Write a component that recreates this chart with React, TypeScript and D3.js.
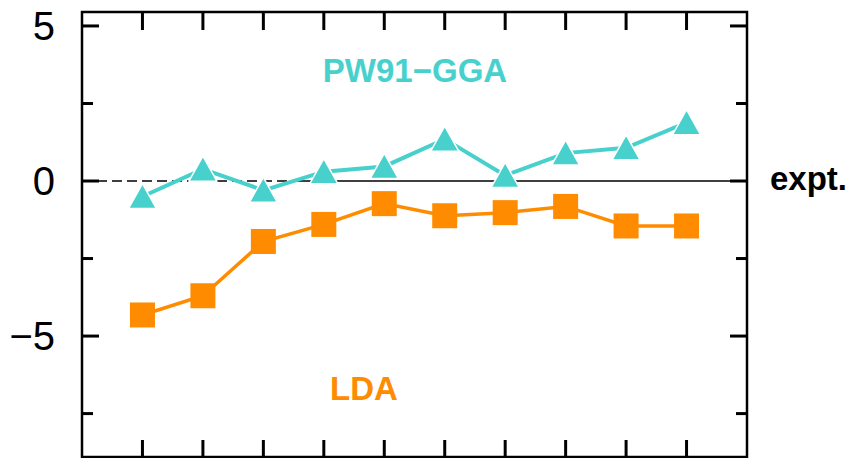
import * as d3 from 'd3';
import React from 'react';

const positions = [1, 2, 3, 4, 5, 6, 7, 8, 9, 10];
const pw91Values = [-0.5, 0.38, -0.3, 0.3, 0.47, 1.35, 0.18, 0.9, 1.07, 1.88];
const ldaValues = [-4.32, -3.7, -1.95, -1.4, -0.73, -1.12, -1.02, -0.82, -1.45, -1.45];
const majorTicks = [5, 0, -5];
const minorTicks = [2.5, -2.5, -7.5];
const tickLabels = ['5', '0', '\u22125'];

export default function App() {
  const svgRef = React.useRef<SVGSVGElement>(null);

  React.useEffect(() => {
    if (svgRef.current == null) {
      return;
    }
    const w = 850;
    const h = 458;
    const left = 82;
    const right = 747;
    const top = 12;
    const bottom = 457;
    const teal = '#48d1cc';
    const orange = '#ff8c00';
    const font = '"Liberation Sans", Arial, sans-serif';

    const svg = d3.select(svgRef.current);
    svg.selectAll('*').remove();
    svg.attr('width', w).attr('height', h);

    const xScale = d3.scaleLinear().domain([0, 11]).range([left, right]);
    const yScale = d3.scaleLinear().domain([-8.9, 5.45]).range([bottom, top]);

    // zero reference line: dashed at the left, solid after
    const y0 = yScale(0);
    svg
      .append('line')
      .attr('x1', left)
      .attr('x2', 300)
      .attr('y1', y0)
      .attr('y2', y0)
      .attr('stroke', '#000')
      .attr('stroke-width', 1.3)
      .attr('stroke-dasharray', '10,5');
    svg
      .append('line')
      .attr('x1', 300)
      .attr('x2', right)
      .attr('y1', y0)
      .attr('y2', y0)
      .attr('stroke', '#000')
      .attr('stroke-width', 1.3);

    // frame
    svg
      .append('rect')
      .attr('x', left)
      .attr('y', top)
      .attr('width', right - left)
      .attr('height', bottom - top)
      .attr('fill', 'none')
      .attr('stroke', '#000')
      .attr('stroke-width', 2.5);

    // x ticks top and bottom
    positions.forEach((p) => {
      svg
        .append('line')
        .attr('x1', xScale(p))
        .attr('x2', xScale(p))
        .attr('y1', top)
        .attr('y2', top + 18)
        .attr('stroke', '#000')
        .attr('stroke-width', 3);
      svg
        .append('line')
        .attr('x1', xScale(p))
        .attr('x2', xScale(p))
        .attr('y1', bottom)
        .attr('y2', bottom - 17)
        .attr('stroke', '#000')
        .attr('stroke-width', 3);
    });

    // y ticks left and right
    const yTicks = [
      ...majorTicks.map((v) => ({ v, len: 17 })),
      ...minorTicks.map((v) => ({ v, len: 11 })),
    ];
    yTicks.forEach((t) => {
      svg
        .append('line')
        .attr('x1', left)
        .attr('x2', left + t.len)
        .attr('y1', yScale(t.v))
        .attr('y2', yScale(t.v))
        .attr('stroke', '#000')
        .attr('stroke-width', 3);
      svg
        .append('line')
        .attr('x1', right)
        .attr('x2', right - t.len)
        .attr('y1', yScale(t.v))
        .attr('y2', yScale(t.v))
        .attr('stroke', '#000')
        .attr('stroke-width', 3);
    });

    majorTicks.forEach((v, i) => {
      svg
        .append('text')
        .attr('x', 55)
        .attr('y', yScale(v))
        .attr('dy', '0.36em')
        .attr('text-anchor', 'end')
        .style('font', `40px ${font}`)
        .text(tickLabels[i]);
    });

    const line = d3
      .line<number>()
      .x((_, i) => xScale(positions[i]))
      .y((d) => yScale(d));

    // LDA series
    svg
      .append('path')
      .attr('d', line(ldaValues))
      .attr('fill', 'none')
      .attr('stroke', orange)
      .attr('stroke-width', 3.5);
    const sq = 25;
    ldaValues.forEach((v, i) => {
      svg
        .append('rect')
        .attr('x', xScale(positions[i]) - sq / 2)
        .attr('y', yScale(v) - sq / 2)
        .attr('width', sq)
        .attr('height', sq)
        .attr('fill', orange);
    });

    // PW91-GGA series
    svg
      .append('path')
      .attr('d', line(pw91Values))
      .attr('fill', 'none')
      .attr('stroke', teal)
      .attr('stroke-width', 4);
    pw91Values.forEach((v, i) => {
      const cx = xScale(positions[i]);
      const cy = yScale(v);
      svg
        .append('path')
        .attr('d', `M${cx},${cy - 13}L${cx + 14},${cy + 12}L${cx - 14},${cy + 12}Z`)
        .attr('fill', teal)
        .attr('stroke', '#fff')
        .attr('stroke-width', 1.5)
        .attr('stroke-linejoin', 'round');
    });

    svg
      .append('text')
      .attr('x', 415)
      .attr('y', 82)
      .attr('text-anchor', 'middle')
      .attr('fill', teal)
      .style('font', `bold 33px ${font}`)
      .text('PW91\u2212GGA');

    svg
      .append('text')
      .attr('x', 364)
      .attr('y', 400)
      .attr('text-anchor', 'middle')
      .attr('fill', orange)
      .style('font', `bold 33px ${font}`)
      .text('LDA');

    svg
      .append('text')
      .attr('x', 770)
      .attr('y', 190)
      .attr('fill', '#000')
      .style('font', `bold 33px ${font}`)
      .text('expt.');
  }, []);

  return (
    <svg
      ref={svgRef}
      width={850}
      height={458}
      style={{ position: 'absolute', left: 0, top: 0, background: '#fff' }}
    ></svg>
  );
}
